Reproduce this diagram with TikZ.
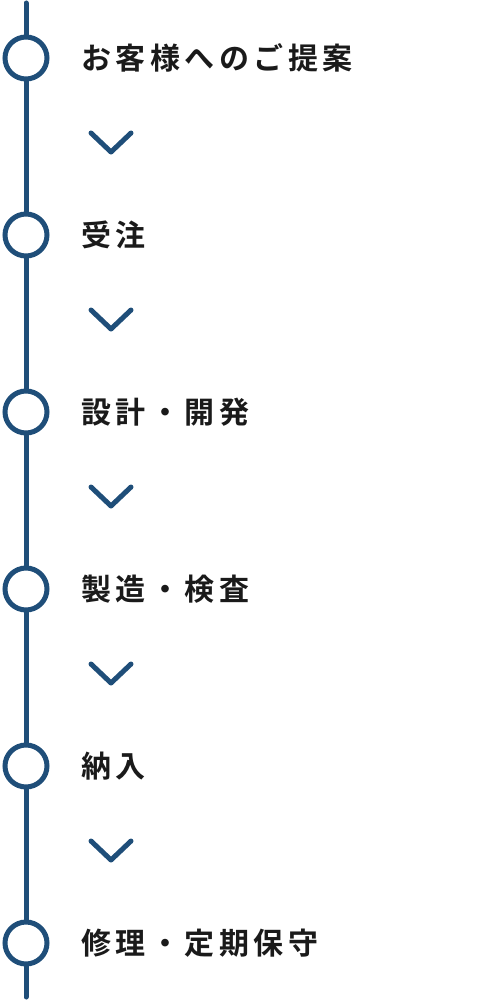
\documentclass[tikz,border=0pt]{standalone}
\usepackage{fontspec}
\newfontfamily\jpfont{Noto Sans CJK JP}[UprightFont={* Bold}, LetterSpace=15]
\definecolor{flowblue}{HTML}{1F4E79}
\definecolor{ink}{HTML}{1A1A1A}
\begin{document}
\begin{tikzpicture}[x=1pt,y=-1pt,
  stepcircle/.style={circle, draw=flowblue, line width=5pt, fill=white, minimum size=42pt, inner sep=0pt},
  steplabel/.style={anchor=base west, inner sep=0pt, font=\jpfont\fontsize{30pt}{30pt}\selectfont, text=ink},
  chev/.style={draw=flowblue, line width=5pt, line cap=round, line join=round},
  spine/.style={draw=flowblue, line width=5pt, line cap=round}]
\useasboundingbox (0,0) rectangle (500,1000);
\coordinate (top) at (26,3);
\coordinate (bottom) at (26,997);
\draw[spine] (top) -- (bottom);
\foreach \i/\lab in {0/お客様へのご提案, 1/受注, 2/設計・開発, 3/製造・検査, 4/納入, 5/修理・定期保守} {
  \node[stepcircle] (c\i) at (26, 58+177*\i) {};
  \node[steplabel] (t\i) at (81, 69.4+177*\i) {\lab};
}
\foreach \i in {0,...,4} {
  \coordinate (v\i) at (111, 152+177*\i);
  \draw[chev] (v\i) ++(-20,-19) -- (v\i) -- ++(20,-19);
}
\end{tikzpicture}
\end{document}
